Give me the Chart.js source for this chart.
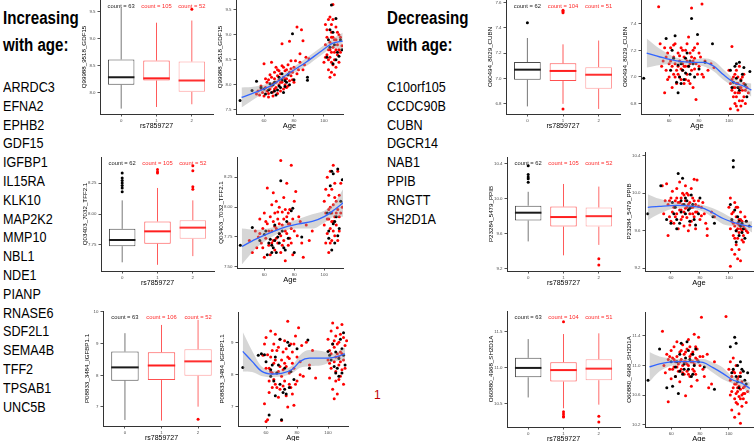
<!DOCTYPE html>
<html lang="en">
<head>
<meta charset="UTF-8">
<title>Proteins changing with age by rs7859727</title>
<script src="https://cdn.jsdelivr.net/npm/chart.js"></script>
<style>
  body { margin: 0; width: 756px; height: 441px; position: relative; overflow: hidden; background: #fff;
         font-family: "Liberation Sans", Arial, sans-serif; }
  canvas { position: absolute; }
  .head { position: absolute; font-weight: bold; font-size: 18px; line-height: 27px; white-space: nowrap;
          transform: scaleX(0.84); transform-origin: 0 0; }
  .genes { position: absolute; font-size: 14px; line-height: 18.8px; white-space: nowrap;
           transform: scaleX(0.9); transform-origin: 0 0; }
  .mark { position: absolute; left: 374px; top: 388px; font-size: 12px; color: #c00000; }
</style>
</head>
<body>
<div class="head" style="left:3px; top:5px">Increasing<br>with age:</div>
<div class="head" style="left:387px; top:5px">Decreasing<br>with age:</div>
<div class="genes" id="upGenes" style="left:3px; top:78px"></div>
<div class="genes" id="downGenes" style="left:387px; top:78px"></div>
<div class="mark">1</div>
<script>
const INCREASING = ['ARRDC3', 'EFNA2', 'EPHB2', 'GDF15', 'IGFBP1', 'IL15RA', 'KLK10', 'MAP2K2', 'MMP10',
  'NBL1', 'NDE1', 'PIANP', 'RNASE6', 'SDF2L1', 'SEMA4B', 'TFF2', 'TPSAB1', 'UNC5B'];
const DECREASING = ['C10orf105', 'CCDC90B', 'CUBN', 'DGCR14', 'NAB1', 'PPIB', 'RNGTT', 'SH2D1A'];

const GROUPS = ['0', '1', '2'];
const AGE_TICKS = ['60', '80', '100'];

// box stats per genotype: [lower whisker, q1, median, q3, upper whisker]
const GDF15_COUNTS = [63, 105, 52];
const GDF15_BOX = [[7.71, 8.15, 8.29, 8.62, 9.57], [7.74, 8.23, 8.27, 8.60, 9.30], [7.79, 8.02, 8.23, 8.58, 9.34]];
const GDF15_OUT = [[], [], [9.55]];
const GDF15_BOX_TICKS = ['8.0', '8.5', '9.0', '9.5'];
const GDF15_TICKS = ['7.5', '8.0', '8.5', '9.0', '9.5'];
const GDF15_RED = [[55,7.82],[56,7.88],[57,7.80],[58,7.92],[59,7.85],[60,7.78],[60,8.42],[61,7.95],[62,7.88],[62,8.05],
  [63,7.83],[63,8.10],[64,7.92],[64,8.20],[65,7.98],[65,8.45],[66,8.02],[66,7.86],[67,8.12],[67,8.25],[68,7.95],[68,8.05],
  [69,8.18],[69,8.30],[70,8.00],[70,8.10],[71,7.88],[71,8.22],[72,8.82],[72,8.05],[73,8.15],[73,8.35],[74,8.00],[74,8.28],
  [75,8.12],[75,7.95],[76,8.20],[76,8.40],[77,8.87],[77,8.08],[78,8.18],[78,8.32],[79,8.25],[80,8.05],[81,8.48],[82,9.15],
  [83,8.30],[84,8.45],[85,9.10],[86,8.88],[87,8.40],[88,8.55],[90,8.52],
  [58,7.98],[61,8.12],[63,7.76],[65,8.15],[66,7.78],[67,7.92],[68,8.35],[69,7.83],[70,8.28],[71,8.05],[72,8.38],[73,7.92],
  [74,8.12],[75,8.30],[76,7.98],[77,8.25],[78,8.48],[79,8.10],[80,8.35],[82,8.22],[84,8.62],[86,8.30],
  [100,8.45],[101,8.80],[101,9.20],[102,8.60],[102,8.95],[103,8.30],[103,8.70],[103,9.30],[104,8.15],[104,8.55],[104,8.85],
  [104,9.35],[105,8.25],[105,8.65],[105,8.95],[105,9.05],[106,8.40],[106,8.75],[106,9.30],[106,9.60],[107,8.20],[107,8.50],
  [107,8.90],[108,8.35],[108,8.70],[108,9.15],[109,8.60],[109,8.80],[110,8.45],[110,9.00],[111,8.65],[112,8.78],
  [101,8.55],[102,9.10],[103,8.50],[104,8.70],[105,8.45],[105,9.20],[106,8.95],[107,8.65],[108,8.90],[109,9.05],[110,8.70],[111,8.95]];
const GDF15_BLACK = [[44,7.69],[52,7.89],[55,8.07],[58,7.95],[61,7.82],[63,7.90],[65,7.85],[66,8.00],[67,8.05],[68,7.80],
  [69,7.90],[70,8.15],[71,7.95],[72,8.10],[73,7.85],[74,7.97],[75,8.05],[76,8.20],[79,9.02],[80,8.10],[89,8.15],[89,8.09],
  [60,7.92],[64,8.02],[67,7.88],[70,7.98],[72,8.22],[74,8.08],[77,8.00],
  [102,8.55],[103,8.90],[104,9.10],[105,9.59],[106,8.42],[107,8.80],[108,9.32],[109,8.65],[110,8.57],[112,8.70],
  [104,8.75],[106,9.05],[108,8.50],[111,8.90]];
const GDF15_FIT_AGE = [45, 54, 65, 76, 88, 99, 106, 112.5];
const GDF15_FIT = [7.75, 7.85, 7.99, 8.22, 8.45, 8.69, 8.83, 8.87];
const GDF15_LO = [7.55, 7.73, 7.93, 8.16, 8.37, 8.61, 8.73, 8.70];
const GDF15_HI = [7.95, 7.97, 8.05, 8.28, 8.53, 8.77, 8.93, 9.04];

const TFF2_COUNTS = [62, 105, 52];
const TFF2_BOX = [[7.61, 7.74, 7.79, 7.88, 8.11], [7.59, 7.76, 7.86, 7.94, 8.21], [7.66, 7.80, 7.89, 7.95, 8.11]];
const TFF2_OUT = [[8.33, 8.29, 8.27, 8.25, 8.23, 8.21, 8.18], [8.36, 8.34, 8.33], [8.39, 8.35, 8.22, 8.20]];
const TFF2_BOX_TICKS = ['7.75', '8.00', '8.25'];
const TFF2_TICKS = ['7.50', '7.75', '8.00', '8.25'];
const TFF2_RED = [[50,7.72],[52,7.62],[54,7.80],[55,7.66],[56,7.75],[57,7.90],[58,7.70],[59,7.82],[60,7.95],[60,7.58],
  [61,7.74],[62,8.16],[62,7.86],[63,7.68],[64,7.92],[64,7.60],[65,7.80],[65,8.02],[66,7.72],[66,7.88],[67,7.95],[67,7.64],
  [68,7.82],[68,8.05],[69,7.70],[69,7.90],[70,7.78],[70,8.00],[71,8.39],[71,7.62],[72,7.85],[72,7.96],[73,7.72],[73,8.08],
  [74,7.80],[74,7.55],[75,7.92],[75,8.20],[76,7.68],[76,7.86],[77,7.98],[77,7.74],[78,8.35],[78,7.82],[79,7.90],[79,7.60],
  [80,8.05],[81,8.13],[82,7.76],[83,7.92],[85,7.70],[86,7.58],[88,7.85],[90,7.72],[92,7.80],
  [57,7.78],[59,7.66],[61,7.88],[63,7.80],[65,7.70],[66,8.12],[67,7.84],[68,7.74],[69,7.96],[70,7.86],[71,7.76],[72,7.68],
  [73,7.90],[74,7.98],[75,7.78],[76,7.95],[77,7.86],[78,7.70],[80,7.80],[84,7.88],
  [100,7.85],[100,8.05],[101,7.70],[101,7.95],[102,8.25],[102,7.78],[103,7.90],[103,8.10],[103,7.62],[104,8.00],[104,8.30],
  [104,7.82],[105,7.95],[105,7.72],[105,8.15],[106,8.35],[106,7.88],[106,8.02],[107,7.76],[107,8.20],[107,7.92],[108,8.05],
  [108,7.85],[109,7.98],[109,8.30],[110,7.80],[110,8.10],[111,7.95],[112,8.00],
  [101,8.15],[102,7.90],[103,7.98],[104,7.70],[105,7.88],[106,7.80],[107,8.08],[108,7.95],[109,7.72],[110,7.92],[111,8.20]];
const TFF2_BLACK = [[44,7.68],[52,7.83],[57,7.72],[60,7.77],[62,7.60],[63,7.70],[64,7.73],[65,7.68],[66,7.66],[67,7.72],
  [68,7.62],[69,7.75],[70,7.70],[71,8.22],[72,7.80],[74,7.64],[76,7.74],[78,7.97],[79,7.99],[80,7.62],[85,7.75],
  [61,7.80],[65,7.62],[67,7.85],[70,7.78],[73,7.66],[75,7.88],
  [102,7.95],[103,7.74],[104,8.18],[105,8.30],[105,7.64],[106,7.86],[106,8.28],[107,7.70],[108,7.92],[109,8.32],[110,7.82],
  [112,8.23],[103,7.80],[104,7.95],[107,7.88],[109,7.76],[111,8.05]];
const TFF2_FIT_AGE = [45, 54, 65, 76, 83, 92, 100, 107, 113];
const TFF2_FIT = [7.67, 7.73, 7.79, 7.84, 7.86, 7.88, 7.92, 7.98, 8.04];
const TFF2_LO = [7.52, 7.65, 7.75, 7.81, 7.82, 7.82, 7.87, 7.92, 7.92];
const TFF2_HI = [7.82, 7.81, 7.83, 7.87, 7.90, 7.94, 7.97, 8.04, 8.16];

const IGFBP1_COUNTS = [63, 106, 52];
const IGFBP1_BOX = [[6.59, 7.83, 8.25, 8.75, 9.33], [6.57, 7.85, 8.31, 8.73, 9.59], [7.01, 7.99, 8.44, 8.82, 9.75]];
const IGFBP1_OUT = [[], [], [6.61]];
const IGFBP1_BOX_TICKS = ['7', '8', '9', '10'];
const IGFBP1_TICKS = ['7', '8', '9'];
const IGFBP1_RED = [[58,8.60],[59,8.95],[59,7.10],[60,9.15],[60,6.55],[61,8.62],[61,6.60],[62,8.20],[62,7.45],[63,9.35],
  [63,8.10],[64,7.60],[64,8.75],[65,8.95],[65,7.85],[66,9.25],[66,8.45],[67,8.05],[67,7.60],[68,8.85],[68,7.30],[69,9.10],
  [69,8.25],[70,7.95],[70,6.58],[71,8.70],[71,7.65],[72,9.05],[72,8.35],[73,7.35],[73,8.80],[74,9.65],[74,7.00],[75,8.50],
  [75,7.70],[76,8.95],[76,8.10],[77,7.40],[77,8.70],[78,8.20],[78,7.05],[79,9.20],[80,8.55],[80,7.80],[81,9.45],[82,8.40],
  [83,8.90],[84,7.95],[86,9.00],[88,8.30],[90,8.75],[92,7.90],
  [60,8.20],[62,7.80],[63,8.55],[64,8.05],[65,8.35],[66,7.70],[67,8.75],[68,8.10],[69,7.55],[70,8.45],[71,8.15],[72,7.80],
  [73,8.25],[74,8.55],[75,8.05],[76,7.60],[77,8.35],[78,8.95],[79,7.70],[82,8.00],
  [100,8.45],[100,9.10],[101,7.90],[101,8.75],[102,9.35],[102,8.20],[103,7.55],[103,8.95],[103,9.60],[104,8.40],[104,7.25],
  [104,8.85],[105,9.20],[105,8.10],[105,7.80],[106,8.65],[106,9.45],[106,7.40],[107,8.30],[107,9.00],[107,8.55],[108,7.95],
  [108,9.25],[108,8.70],[109,8.15],[109,9.55],[110,8.45],[110,7.70],[111,8.90],[112,9.05],
  [101,8.35],[102,8.65],[104,9.05],[105,8.55],[106,8.95],[107,7.85],[108,8.40],[109,8.65],[110,9.15],[111,8.20]];
const IGFBP1_BLACK = [[45,8.22],[55,8.60],[57,8.65],[59,8.62],[62,6.75],[63,7.95],[64,8.30],[65,7.80],[66,7.35],[67,8.05],
  [68,8.30],[69,9.10],[70,6.60],[71,7.45],[72,7.55],[73,7.40],[74,9.00],[75,8.90],[76,8.10],[78,7.85],[80,8.80],[87,9.07],
  [88,8.20],[60,8.40],[63,8.15],[66,8.55],[69,7.70],[72,8.20],[75,7.60],
  [100,8.72],[101,8.60],[103,8.95],[104,8.25],[105,8.05],[106,8.20],[107,7.95],[108,9.10],[109,8.80],[110,8.60],[111,8.30],
  [102,8.45],[105,8.70],[107,8.50],[109,8.05],[110,9.30]];
const IGFBP1_FIT_AGE = [45, 51, 57, 64, 70, 77, 82, 88, 96, 103, 111];
const IGFBP1_FIT = [8.72, 8.41, 8.11, 8.02, 8.04, 8.17, 8.41, 8.51, 8.51, 8.53, 8.64];
const IGFBP1_LO = [8.10, 8.08, 7.96, 7.92, 7.94, 8.05, 8.21, 8.26, 8.29, 8.41, 8.44];
const IGFBP1_HI = [9.32, 8.74, 8.26, 8.12, 8.14, 8.29, 8.61, 8.76, 8.73, 8.65, 8.84];

const CUBN_COUNTS = [62, 104, 51];
const CUBN_BOX = [[6.78, 6.99, 7.07, 7.13, 7.32], [6.80, 6.98, 7.06, 7.12, 7.27], [6.76, 6.92, 7.03, 7.09, 7.30]];
const CUBN_OUT = [[7.44], [7.54, 7.53, 7.52, 6.76], []];
const CUBN_BOX_TICKS = ['6.8', '7.0', '7.2', '7.4', '7.6'];
const CUBN_TICKS = ['6.8', '7.0', '7.2', '7.4'];
const CUBN_RED = [[53,7.53],[54,7.25],[55,7.08],[56,7.12],[57,7.22],[57,6.88],[58,7.05],[59,7.18],[60,7.10],[60,7.00],
  [61,7.22],[62,7.08],[62,6.92],[63,7.15],[63,7.02],[64,7.25],[64,7.10],[65,7.05],[65,6.95],[66,7.18],[66,7.08],[67,7.12],
  [67,7.00],[68,7.22],[68,6.98],[69,7.10],[69,7.05],[70,7.15],[70,6.95],[71,7.08],[71,7.20],[72,7.02],[72,7.12],[73,7.30],
  [73,6.97],[74,7.10],[74,7.18],[75,7.52],[75,7.05],[76,7.12],[76,6.92],[77,7.22],[77,7.06],[78,6.83],[78,7.10],[79,7.25],
  [80,7.08],[81,7.15],[82,7.55],[82,7.02],[84,7.12],[86,7.05],[88,7.10],[90,7.07],
  [58,7.15],[59,6.98],[61,7.12],[63,7.24],[64,7.00],[66,7.02],[67,7.16],[68,7.06],[69,7.20],[70,7.08],[71,6.98],[72,7.25],
  [73,7.08],[74,6.95],[75,7.15],[76,7.20],[77,7.14],[79,7.02],[80,7.18],[83,7.00],
  [100,7.05],[101,6.95],[101,6.76],[102,7.23],[102,6.90],[103,7.00],[103,6.85],[104,6.80],[104,7.02],[104,6.92],[105,6.78],
  [105,6.95],[105,7.05],[106,6.88],[106,6.75],[106,7.00],[107,6.92],[107,6.82],[107,7.08],[108,6.98],[108,6.78],[109,6.90],
  [109,7.00],[110,6.85],[110,6.95],[111,6.80],[112,6.92],[113,6.88],
  [102,6.98],[103,6.92],[104,6.88],[105,6.85],[106,6.95],[107,6.88],[108,6.92],[109,6.82],[110,7.02],[111,6.90]];
const CUBN_BLACK = [[43,6.99],[58,7.29],[62,7.20],[64,7.31],[65,6.96],[66,6.88],[67,7.00],[68,7.10],[69,7.05],[70,6.98],
  [71,7.14],[72,7.18],[73,7.08],[74,7.02],[75,7.44],[76,7.10],[77,7.00],[79,7.32],[80,7.06],[84,7.11],[89,7.25],
  [61,7.05],[63,7.14],[66,7.09],[68,6.95],[71,7.03],[74,7.12],
  [101,7.05],[103,6.96],[104,7.08],[105,7.10],[106,6.92],[107,7.11],[108,6.97],[110,7.07],[112,6.85],[114,7.04],
  [102,6.92],[105,6.99],[107,6.90],[109,7.02],[111,6.94]];
const CUBN_FIT_AGE = [45, 54, 65, 76, 83, 90, 96, 103, 110, 115];
const CUBN_FIT = [7.18, 7.15, 7.12, 7.11, 7.11, 7.08, 7.02, 6.96, 6.93, 6.90];
const CUBN_LO = [7.07, 7.09, 7.095, 7.09, 7.08, 7.04, 6.98, 6.93, 6.90, 6.85];
const CUBN_HI = [7.29, 7.21, 7.145, 7.13, 7.14, 7.12, 7.06, 6.99, 6.96, 6.95];

const PPIB_COUNTS = [62, 105, 52];
const PPIB_BOX = [[9.51, 9.75, 9.84, 9.92, 10.08], [9.35, 9.68, 9.79, 9.91, 10.17], [9.47, 9.68, 9.80, 9.90, 10.14]];
const PPIB_OUT = [[10.38, 10.28, 10.25, 10.23, 10.19], [], [9.31, 9.24]];
const PPIB_TICKS = ['9.2', '9.6', '10.0', '10.4'];
const PPIB_RED = [[54,10.08],[55,9.78],[56,9.92],[57,10.10],[58,9.88],[58,9.55],[59,9.75],[60,9.95],[60,9.70],[61,10.02],
  [62,9.85],[62,9.68],[63,9.92],[64,10.05],[64,9.78],[65,9.90],[65,9.62],[66,10.12],[66,9.82],[67,9.95],[67,9.72],[68,9.88],
  [68,10.00],[69,9.80],[69,9.65],[70,9.92],[70,10.08],[71,9.85],[71,9.74],[72,9.98],[72,9.60],[73,9.90],[73,9.78],[74,10.05],
  [74,9.70],[75,9.85],[75,9.95],[76,10.15],[76,9.75],[77,9.88],[77,9.62],[78,10.14],[78,9.80],[79,9.92],[80,9.72],[81,9.85],
  [82,9.90],[83,9.78],[84,9.68],[85,9.55],[85,9.62],[88,9.80],[90,9.75],
  [59,9.92],[61,9.80],[63,9.75],[64,9.95],[66,9.90],[67,9.82],[68,9.75],[69,9.98],[70,9.84],[71,10.00],[72,9.88],[73,9.66],
  [74,9.85],[75,9.78],[76,9.92],[77,9.80],[79,9.86],[81,9.76],
  [100,9.85],[101,9.62],[101,9.95],[101,9.22],[102,9.70],[102,9.40],[103,9.80],[103,9.55],[104,9.90],[104,9.65],[104,9.35],
  [105,9.75],[105,9.60],[105,9.45],[106,9.85],[106,9.68],[106,9.30],[106,9.52],[107,9.72],[107,9.58],[107,9.40],[108,9.80],
  [108,9.62],[108,9.28],[109,9.70],[109,9.50],[110,9.65],[110,9.55],[111,9.75],[112,9.60],[113,9.58],
  [102,9.78],[103,9.68],[104,9.52],[105,9.85],[106,9.62],[107,9.66],[108,9.72],[109,9.60],[110,9.48],[111,9.62],[112,9.70]];
const PPIB_BLACK = [[44,9.78],[53,10.08],[57,9.72],[60,9.68],[62,9.78],[63,9.85],[64,9.72],[65,10.21],[66,9.68],[67,9.92],
  [68,10.16],[69,9.88],[70,9.78],[71,9.92],[72,9.82],[73,9.70],[74,9.98],[75,9.88],[76,9.72],[79,9.78],[80,9.95],[89,9.75],
  [90,9.68],[61,9.90],[64,9.62],[67,9.80],[70,9.95],[73,9.84],[77,9.66],
  [101,9.88],[103,10.35],[103,10.28],[104,9.82],[105,9.60],[106,9.75],[107,9.55],[108,9.65],[109,9.68],[110,9.62],
  [112,9.70],[114,9.65],[102,9.72],[105,9.48],[107,9.70],[109,9.58],[111,9.52]];
const PPIB_FIT_AGE = [44, 52, 64, 75, 82, 89, 96, 103, 110, 116];
const PPIB_FIT = [9.85, 9.86, 9.87, 9.86, 9.84, 9.79, 9.73, 9.69, 9.66, 9.64];
const PPIB_LO = [9.71, 9.78, 9.84, 9.835, 9.805, 9.74, 9.67, 9.65, 9.625, 9.58];
const PPIB_HI = [9.99, 9.94, 9.90, 9.885, 9.875, 9.84, 9.79, 9.73, 9.695, 9.70];

const SH2D1A_COUNTS = [63, 104, 51];
const SH2D1A_BOX = [[10.59, 10.87, 11.00, 11.14, 11.40], [10.44, 10.81, 10.97, 11.08, 11.47], [10.49, 10.83, 10.99, 11.12, 11.48]];
const SH2D1A_OUT = [[], [11.64, 10.39, 10.36, 10.33, 10.32], [10.33, 10.25]];
const SH2D1A_BOX_TICKS = ['10.5', '11.0', '11.5'];
const SH2D1A_TICKS = ['10.2', '10.6', '11.0', '11.4'];
const SH2D1A_RED = [[54,11.46],[55,11.00],[56,10.90],[57,11.15],[58,10.51],[58,11.08],[59,10.95],[60,11.20],[60,10.82],
  [61,11.10],[62,11.25],[62,10.98],[63,11.05],[63,10.85],[64,11.32],[64,11.12],[65,10.92],[65,11.02],[66,11.18],[66,10.78],
  [67,11.08],[67,10.95],[68,11.28],[68,11.00],[69,10.88],[69,11.15],[70,10.59],[70,11.05],[71,11.22],[71,10.92],[72,11.35],
  [72,11.00],[73,10.85],[73,11.12],[74,11.05],[74,10.72],[75,11.18],[75,10.95],[76,11.42],[76,11.02],[77,10.88],[77,11.25],
  [78,11.08],[78,10.80],[79,11.38],[80,11.00],[81,11.65],[82,11.12],[83,10.85],[85,11.15],[86,10.70],[88,10.75],[90,11.05],
  [59,11.12],[61,10.95],[62,11.08],[64,10.98],[66,11.05],[67,11.20],[68,10.90],[69,11.05],[70,11.18],[71,11.02],[72,10.88],
  [73,11.25],[74,11.15],[75,11.05],[76,10.92],[77,11.10],[78,11.22],[80,11.12],[82,10.95],
  [98,11.66],[100,10.95],[101,10.60],[101,11.05],[102,10.85],[102,10.40],[103,10.70],[103,11.10],[104,10.55],[104,10.90],
  [104,10.30],[105,10.75],[105,10.62],[105,11.00],[106,10.48],[106,10.82],[106,10.65],[107,10.35],[107,10.72],[107,10.58],
  [108,10.68],[108,10.22],[108,10.90],[109,10.60],[109,10.45],[110,10.70],[110,10.55],[111,10.62],[112,10.50],[113,10.65],
  [101,10.80],[102,10.65],[103,10.92],[104,10.75],[105,10.50],[106,10.70],[107,10.85],[108,10.55],[109,10.78],[110,10.62],[111,10.72]];
const SH2D1A_BLACK = [[44,10.80],[52,11.22],[57,10.70],[61,10.72],[63,10.98],[64,11.05],[65,10.62],[66,10.92],[67,11.30],
  [68,10.88],[69,11.02],[70,11.10],[71,11.32],[72,10.95],[73,11.08],[74,10.85],[75,11.15],[76,11.00],[77,11.22],[79,11.05],
  [83,10.98],[90,10.68],[60,11.05],[63,10.85],[66,11.15],[69,10.95],[72,11.20],[75,10.88],
  [101,11.25],[102,10.90],[104,11.38],[105,11.30],[105,10.85],[106,11.00],[107,10.70],[108,11.05],[109,10.95],[111,10.80],
  [113,10.90],[103,10.95],[106,10.78],[108,10.85],[110,10.92],[112,10.75]];
const SH2D1A_FIT_AGE = [45, 52, 64, 75, 82, 89, 96, 102, 109, 114.5];
const SH2D1A_FIT = [10.98, 11.02, 11.05, 11.05, 11.04, 10.97, 10.89, 10.81, 10.76, 10.69];
const SH2D1A_LO = [10.78, 10.92, 11.01, 11.015, 10.995, 10.90, 10.81, 10.76, 10.71, 10.61];
const SH2D1A_HI = [11.18, 11.12, 11.09, 11.085, 11.085, 11.04, 10.97, 10.86, 10.81, 10.77];

// ---- styling / layout ----
document.getElementById('upGenes').innerHTML = INCREASING.join('<br>');
document.getElementById('downGenes').innerHTML = DECREASING.join('<br>');

Chart.defaults.font.family = '"Liberation Sans", Arial, sans-serif';
Chart.defaults.animation = false;
Chart.defaults.plugins.legend.display = false;
Chart.defaults.plugins.tooltip.enabled = false;

const Y_W = 20, X_H = 16, PAD_T = 8, PAD_R = 5;
const BOX_HALF = 0.375;
const BOX_BORDER = ['#4d4d4d', '#ff5050', '#ff9d9d'];
const MEDIAN_COLOR = ['#1a1a1a', '#ff1f1f', '#ff2f2f'];
const WHISKER_COLOR = ['#777777', '#ff5a5a', '#ff6a6a'];
const COUNT_COLOR = ['#222222', '#ff2a2a', '#ff2a2a'];
const OUT_COLOR = ['#000000', '#ff0000', '#ff0000'];

function makeCanvas(rect) {
  const c = document.createElement('canvas');
  const w = rect[2] - rect[0] + Y_W + PAD_R;
  const h = rect[3] - rect[1] + PAD_T + X_H;
  c.width = w; c.height = h;
  c.style.width = w + 'px'; c.style.height = h + 'px';
  c.style.left = (rect[0] - Y_W) + 'px';
  c.style.top = (rect[1] - PAD_T) + 'px';
  document.body.appendChild(c);
  return c;
}

function axis(min, max, ticks, title, titleSize, horizontal) {
  return {
    type: 'linear', min: min, max: max, offset: false, beginAtZero: false,
    afterBuildTicks: s => { s.ticks = ticks.map(t => ({ value: parseFloat(t) })); },
    afterFit: s => { if (horizontal) s.height = X_H; else s.width = Y_W; },
    ticks: { font: { size: 4.4 }, color: '#4d4d4d', padding: horizontal ? 1.5 : 2, autoSkip: false,
             maxRotation: 0, callback: (v, i) => ticks[i] },
    grid: { display: true, drawOnChartArea: false, drawTicks: true, tickLength: 2.5, color: '#555', offset: false },
    border: { display: true, color: '#333', width: 1 },
    title: { display: true, text: title, color: '#000', font: { size: titleSize },
             padding: horizontal ? { top: 0, bottom: 0 } : { top: 1, bottom: 0 } }
  };
}

const countLabels = {
  id: 'countLabels',
  afterDraw(chart, args, opts) {
    const { ctx, chartArea, scales } = chart;
    ctx.save();
    ctx.font = '5.8px "Liberation Sans", Arial, sans-serif';
    ctx.textAlign = 'center';
    ctx.textBaseline = 'middle';
    opts.counts.forEach((n, i) => {
      ctx.fillStyle = COUNT_COLOR[i];
      ctx.fillText('count = ' + n, scales.x.getPixelForValue(i), chartArea.top + 6);
    });
    ctx.restore();
  }
};

function boxPlot(rect, yRange, box, outliers, counts, ticks, title) {
  const datasets = [];
  box.forEach((s, i) => datasets.push({
    type: 'line', data: [{ x: i - BOX_HALF, y: s[2] }, { x: i + BOX_HALF, y: s[2] }],
    borderColor: MEDIAN_COLOR[i], borderWidth: 2, pointRadius: 0
  }));
  outliers.forEach((vals, i) => datasets.push({
    type: 'scatter', data: vals.map(v => ({ x: i, y: v })),
    pointBackgroundColor: OUT_COLOR[i], pointBorderWidth: 0, pointRadius: 1.5
  }));
  datasets.push({
    type: 'bar', data: box.map((s, i) => ({ x: i, y: [s[1], s[3]] })),
    backgroundColor: '#ffffff', borderColor: BOX_BORDER, borderWidth: 1, borderSkipped: false,
    barPercentage: 0.75, categoryPercentage: 1
  });
  box.forEach((s, i) => datasets.push({
    type: 'line',
    data: [{ x: i, y: s[0] }, { x: i, y: s[1] }, { x: i, y: null }, { x: i, y: s[3] }, { x: i, y: s[4] }],
    borderColor: WHISKER_COLOR[i], borderWidth: 1, pointRadius: 0, spanGaps: false
  }));
  new Chart(makeCanvas(rect), {
    type: 'scatter',
    data: { datasets },
    options: {
      responsive: false,
      layout: { padding: { top: PAD_T, right: PAD_R, left: 0, bottom: 0 } },
      scales: {
        x: axis(-0.6, 2.6, GROUPS, 'rs7859727', 7, true),
        y: axis(yRange[0], yRange[1], ticks, title, 6.2, false)
      },
      plugins: { countLabels: { counts } }
    },
    plugins: [countLabels]
  });
}

function agePlot(rect, xRange, yRange, red, black, fitAge, fit, lo, hi, ticks, title) {
  const pts = arr => arr.map(p => ({ x: p[0], y: p[1] }));
  const curve = vals => fitAge.map((a, i) => ({ x: a, y: vals[i] }));
  new Chart(makeCanvas(rect), {
    type: 'scatter',
    data: {
      datasets: [
        { type: 'line', data: curve(fit), borderColor: '#3366ff', borderWidth: 1.3, pointRadius: 0,
          cubicInterpolationMode: 'monotone', fill: false },
        { type: 'line', data: curve(lo), borderWidth: 0, borderColor: 'rgba(0,0,0,0)', pointRadius: 0,
          cubicInterpolationMode: 'monotone', fill: false },
        { type: 'line', data: curve(hi), borderWidth: 0, borderColor: 'rgba(0,0,0,0)', pointRadius: 0,
          cubicInterpolationMode: 'monotone', fill: '-1', backgroundColor: 'rgba(153,153,153,0.4)' },
        { type: 'scatter', data: pts(black), pointBackgroundColor: '#000', pointBorderWidth: 0, pointRadius: 1.5 },
        { type: 'scatter', data: pts(red), pointBackgroundColor: '#ff0000', pointBorderWidth: 0, pointRadius: 1.5 }
      ]
    },
    options: {
      responsive: false,
      layout: { padding: { top: PAD_T, right: PAD_R, left: 0, bottom: 0 } },
      scales: {
        x: axis(xRange[0], xRange[1], AGE_TICKS, 'Age', 7.5, true),
        y: axis(yRange[0], yRange[1], ticks, title, 6.2, false)
      }
    }
  });
}

// left column: increasing with age
boxPlot([100, 0, 213, 114], [7.61, 9.72], GDF15_BOX, GDF15_OUT, GDF15_COUNTS, GDF15_BOX_TICKS, 'Q99988_9518_GDF15');
agePlot([236, 0, 343, 114], [41.3, 112.7], [7.42, 9.69], GDF15_RED, GDF15_BLACK,
        GDF15_FIT_AGE, GDF15_FIT, GDF15_LO, GDF15_HI, GDF15_TICKS, 'Q99988_9518_GDF15');
boxPlot([101, 157, 214, 271], [7.54, 8.46], TFF2_BOX, TFF2_OUT, TFF2_COUNTS, TFF2_BOX_TICKS, 'Q03403_7032_TFF2.1');
agePlot([237, 157, 343, 268], [41.8, 112.5], [7.49, 8.42], TFF2_RED, TFF2_BLACK,
        TFF2_FIT_AGE, TFF2_FIT, TFF2_LO, TFF2_HI, TFF2_TICKS, 'Q03403_7032_TFF2.1');
boxPlot([103, 311, 220, 426], [6.4, 10.03], IGFBP1_BOX, IGFBP1_OUT, IGFBP1_COUNTS, IGFBP1_BOX_TICKS, 'P08833_3484_IGFBP1.1');
agePlot([238, 312, 348, 426], [41.9, 112.9], [6.41, 9.94], IGFBP1_RED, IGFBP1_BLACK,
        IGFBP1_FIT_AGE, IGFBP1_FIT, IGFBP1_LO, IGFBP1_HI, IGFBP1_TICKS, 'P08833_3484_IGFBP1.1');

// right column: decreasing with age
boxPlot([506, 0, 620, 114], [6.72, 7.62], CUBN_BOX, CUBN_OUT, CUBN_COUNTS, CUBN_BOX_TICKS, 'O60494_8029_CUBN');
agePlot([641, 0, 753, 114], [41.2, 116.1], [6.72, 7.58], CUBN_RED, CUBN_BLACK,
        CUBN_FIT_AGE, CUBN_FIT, CUBN_LO, CUBN_HI, CUBN_TICKS, 'O60494_8029_CUBN');
boxPlot([507, 157, 620, 271], [9.17, 10.48], PPIB_BOX, PPIB_OUT, PPIB_COUNTS, PPIB_TICKS, 'P23284_5479_PPIB');
agePlot([645, 152, 753, 271], [42.1, 116.6], [9.17, 10.44], PPIB_RED, PPIB_BLACK,
        PPIB_FIT_AGE, PPIB_FIT, PPIB_LO, PPIB_HI, PPIB_TICKS, 'P23284_5479_PPIB');
boxPlot([507, 311, 620, 427], [10.18, 11.79], SH2D1A_BOX, SH2D1A_OUT, SH2D1A_COUNTS, SH2D1A_BOX_TICKS, 'O60880_4968_SH2D1A');
agePlot([645, 312, 753, 427], [41.9, 116.7], [10.17, 11.72], SH2D1A_RED, SH2D1A_BLACK,
        SH2D1A_FIT_AGE, SH2D1A_FIT, SH2D1A_LO, SH2D1A_HI, SH2D1A_TICKS, 'O60880_4968_SH2D1A');
</script>
</body>
</html>
